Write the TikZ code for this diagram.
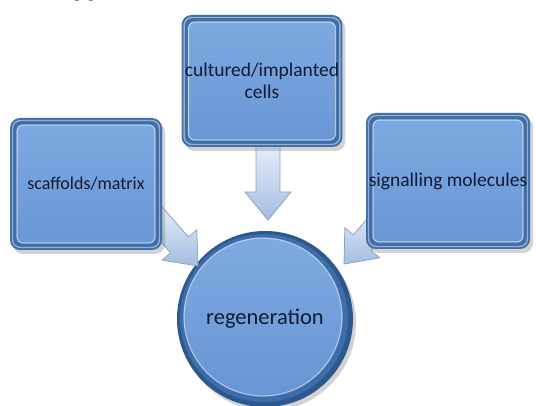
\documentclass[tikz,border=0pt]{standalone}
\usepackage{fontspec}
\setmainfont{Carlito}
\usetikzlibrary{calc,shadows}
\definecolor{rim}{HTML}{3F6DA9}
\definecolor{rimdark}{HTML}{2C5890}
\definecolor{faceT}{HTML}{7EAAE2}
\definecolor{faceB}{HTML}{6896D3}
\definecolor{txt}{HTML}{111B33}
\definecolor{arrowA}{HTML}{F3F7FC}
\definecolor{arrowB}{HTML}{A3BDE2}
\definecolor{arrowLine}{HTML}{8AA3C6}
\newcommand{\blockarrow}[2]{%
  \coordinate (H) at ($(#2)!28pt!(#1)$);
  \shadedraw[arrowstyle] ($(#1)!12pt!90:(#2)$) -- ($(H)!12pt!90:(#2)$) -- ($(H)!23pt!90:(#2)$) -- (#2) -- ($(H)!23pt!-90:(#2)$) -- ($(H)!12pt!-90:(#2)$) -- ($(#1)!12pt!-90:(#2)$) -- cycle;}
\tikzset{
  arrowstyle/.style={top color=arrowA, bottom color=arrowB, draw=arrowLine, line width=0.8pt, line join=miter},
  bevelbox/.style={rectangle, rounded corners=10pt, fill=rim, text=txt, align=center,
    font=\fontsize{19.5}{22}\selectfont,
    drop shadow={shadow xshift=3pt, shadow yshift=-4pt, opacity=0.35},
    path picture={
      \shade[top color=faceT, bottom color=faceB, rounded corners=6pt]
        ([shift={(7pt,7pt)}]path picture bounding box.south west) rectangle ([shift={(-7pt,-7pt)}]path picture bounding box.north east);
      \draw[white, opacity=0.55, line width=1.2pt, rounded corners=6pt]
        ([shift={(7pt,7pt)}]path picture bounding box.south west) rectangle ([shift={(-7pt,-7pt)}]path picture bounding box.north east);
      \draw[white, opacity=0.45, line width=1.4pt, rounded corners=8pt]
        ([shift={(2.5pt,2.5pt)}]path picture bounding box.south west) rectangle ([shift={(-2.5pt,-2.5pt)}]path picture bounding box.north east);
    }},
  bevelcircle/.style={circle, fill=rimdark, text=txt, font=\fontsize{22.5}{26}\selectfont,
    drop shadow={shadow xshift=3pt, shadow yshift=-4pt, opacity=0.35},
    path picture={
      \fill[rim] ([shift={(-1pt,1pt)}]path picture bounding box.center) circle (84pt);
      \shade[top color=faceT, bottom color=faceB] ([shift={(-2pt,2pt)}]path picture bounding box.center) circle (79pt);
      \draw[white, opacity=0.5, line width=1.2pt] ([shift={(-2pt,2pt)}]path picture bounding box.center) circle (79pt);
    }}
}
\begin{document}
\begin{tikzpicture}[x=1pt,y=-1pt]
\useasboundingbox[fill=white] (0,0) rectangle (536,406);
\node[anchor=base, font=\fontsize{17}{20}\selectfont\bfseries] (ref) at (84,-1) {[1]};
\node[bevelcircle, minimum size=176pt] (regen) at (265,319) {regeneration};
\coordinate (lS) at (140,200);
\coordinate (lE) at (198,266);
\coordinate (tS) at (268,130);
\coordinate (tE) at (268,220);
\coordinate (rS) at (395,205);
\coordinate (rE) at (344,264);
\blockarrow{lS}{lE}
\blockarrow{tS}{tE}
\blockarrow{rS}{rE}
\node[bevelbox, minimum width=152pt, minimum height=132pt, font=\fontsize{18}{21}\selectfont] (scaf) at (86,184) {scaffolds/matrix};
\node[bevelbox, minimum width=160pt, minimum height=132pt] (cells) at (262,81) {cultured/implanted\\cells};
\node[bevelbox, minimum width=164pt, minimum height=136pt, inner xsep=0pt] (sig) at (448,181) {signalling molecules};
\end{tikzpicture}
\end{document}
